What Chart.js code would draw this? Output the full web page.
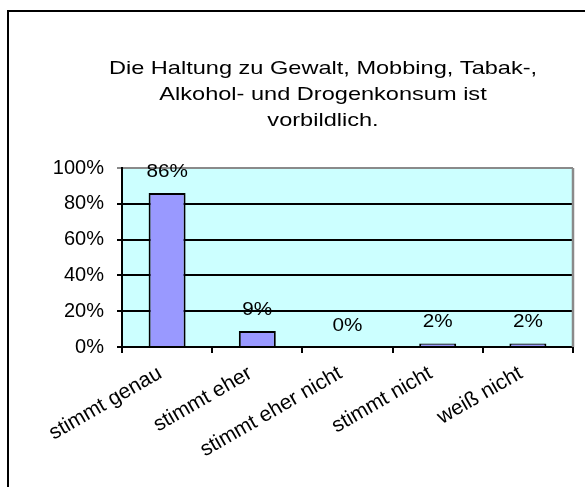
<!DOCTYPE html>
<html>
<head>
<meta charset="utf-8">
<script src="https://cdn.jsdelivr.net/npm/chart.js@4/dist/chart.umd.min.js"></script>
<style>
  html, body { margin: 0; padding: 0; background: #fff; }
  #wrap { width: 585px; height: 487px; position: relative; }
</style>
</head>
<body>
<div id="wrap"><canvas id="c" width="585" height="487"></canvas></div>
<script>
const categories = ['stimmt genau', 'stimmt eher', 'stimmt eher nicht', 'stimmt nicht', 'weiß nicht'];
const shares = [86, 9, 0, 2, 2];
const yTicks = [0, 20, 40, 60, 80, 100];
const titleLines = ['Die Haltung zu Gewalt, Mobbing, Tabak-,', 'Alkohol- und Drogenkonsum ist', 'vorbildlich.'];

const FONT = 'Arial, "Liberation Sans", sans-serif';

// draws a line of text widened horizontally by sx around (x, y)
function wideText(ctx, text, x, y, sx) {
  ctx.save();
  ctx.translate(x, y);
  ctx.scale(sx, 1);
  ctx.fillText(text, 0, 0);
  ctx.restore();
}

// frame around the whole figure, cyan plot background and grey plot edge
const framePlugin = {
  id: 'frame',
  beforeDraw(chart) {
    const { ctx, chartArea: a } = chart;
    ctx.save();
    ctx.fillStyle = '#ffffff';
    ctx.fillRect(0, 0, chart.width, chart.height);
    ctx.fillStyle = '#CCFFFF';
    ctx.fillRect(a.left, a.top, a.right - a.left, a.bottom - a.top);
    ctx.strokeStyle = '#000';
    ctx.lineWidth = 2;
    ctx.beginPath();
    ctx.moveTo(8, chart.height + 2);
    ctx.lineTo(8, 11);
    ctx.lineTo(chart.width + 2, 11);
    ctx.stroke();
    ctx.restore();
  },
  afterDatasetsDraw(chart) {
    const { ctx, chartArea: a } = chart;
    ctx.save();
    ctx.strokeStyle = '#8a8a8a';
    ctx.lineWidth = 2.5;
    ctx.beginPath();
    ctx.moveTo(a.right, a.top);
    ctx.lineTo(a.right, a.bottom);
    ctx.stroke();
    ctx.restore();
  }
};

// three-line heading above the plot
const headingPlugin = {
  id: 'heading',
  afterDraw(chart) {
    const { ctx } = chart;
    ctx.save();
    ctx.font = '19px ' + FONT;
    ctx.fillStyle = '#000';
    ctx.textAlign = 'center';
    ctx.textBaseline = 'middle';
    titleLines.forEach((line, i) => wideText(ctx, line, 323, 69 + i * 26, 1.24));
    ctx.restore();
  }
};

// percentage labels above each bar
const valueLabels = {
  id: 'valueLabels',
  afterDatasetsDraw(chart) {
    const { ctx } = chart;
    const meta = chart.getDatasetMeta(0);
    ctx.save();
    ctx.font = '18px ' + FONT;
    ctx.fillStyle = '#000';
    ctx.textAlign = 'center';
    ctx.textBaseline = 'middle';
    meta.data.forEach((bar, i) => {
      wideText(ctx, shares[i] + '%', bar.x, bar.y - 21, 1.15);
    });
    ctx.restore();
  }
};

new Chart(document.getElementById('c'), {
  type: 'bar',
  data: {
    labels: categories,
    datasets: [{
      data: shares,
      backgroundColor: '#9999FF',
      borderColor: '#000',
      borderWidth: 2,
      categoryPercentage: 1,
      barPercentage: 0.41
    }]
  },
  options: {
    responsive: false,
    animation: false,
    devicePixelRatio: 1,
    layout: { padding: { top: 168, right: 12, left: 0, bottom: 0 } },
    plugins: {
      legend: { display: false },
      tooltip: { enabled: false },
      title: { display: false }
    },
    scales: {
      x: {
        afterFit(s) { s.height = 140; },
        grid: {
          offset: true,
          drawOnChartArea: false,
          drawTicks: true,
          tickLength: 6,
          color: '#000',
          lineWidth: 2
        },
        border: { display: true, color: '#000', width: 2 },
        ticks: {
          color: '#000',
          font: { family: FONT, size: 21 },
          minRotation: 30,
          maxRotation: 30,
          padding: 8,
          labelOffset: -7,
          autoSkip: false
        }
      },
      y: {
        min: 0,
        max: 100,
        afterFit(s) { s.width = 122; },
        afterBuildTicks(s) { s.ticks = yTicks.map(v => ({ value: v })); },
        grid: {
          drawTicks: true,
          tickLength: 5,
          color: ctx => (ctx.tick && ctx.tick.value === 100) ? '#8a8a8a' : '#000',
          lineWidth: 2
        },
        border: { display: true, color: '#000', width: 2 },
        ticks: {
          color: '#000',
          font: { family: FONT, size: 20 },
          padding: 13,
          callback: v => v + '%'
        }
      }
    }
  },
  plugins: [framePlugin, headingPlugin, valueLabels]
});
</script>
</body>
</html>
